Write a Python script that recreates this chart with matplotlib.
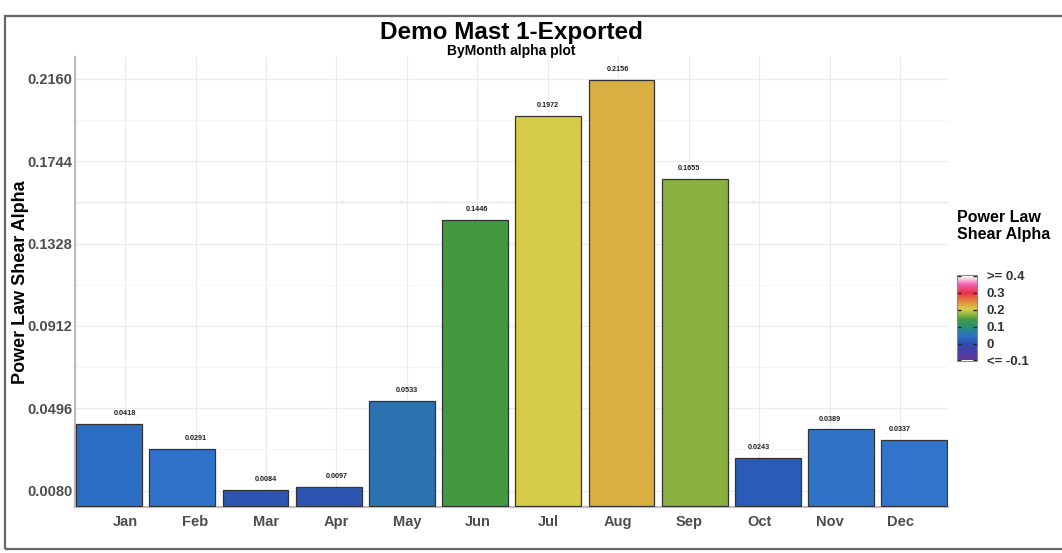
import numpy as np
import matplotlib
matplotlib.use('Agg')
import matplotlib.pyplot as plt
from matplotlib.colors import LinearSegmentedColormap, Normalize
from matplotlib.cm import ScalarMappable
from matplotlib.patches import Rectangle

plt.rcParams['font.family'] = ['Liberation Sans', 'DejaVu Sans']

months = ['Jan', 'Feb', 'Mar', 'Apr', 'May', 'Jun', 'Jul', 'Aug', 'Sep', 'Oct', 'Nov', 'Dec']
alpha = [0.0418, 0.0291, 0.0084, 0.0097, 0.0533, 0.1446, 0.1972, 0.2156, 0.1655, 0.0243, 0.0389, 0.0337]
barColors = ['#2E6DC4', '#3071CA', '#2B55B0', '#2B57B3', '#2C71B0', '#43993F',
             '#D5CB47', '#D9AF42', '#8AB03F', '#2B5BB8', '#3074C8', '#3075CB']
yTicks = [0.0080, 0.0496, 0.0912, 0.1328, 0.1744, 0.2160]
legendTicks = [0.4, 0.3, 0.2, 0.1, 0.0, -0.1]
legendLabels = ['>= 0.4', '0.3', '0.2', '0.1', '0', '<= -0.1']

# colour scale used in the legend
cmapStops = [(-0.1, '#6A3591'), (-0.05, '#4A3DA8'), (0.0, '#2C4FB2'), (0.05, '#2E72C2'),
             (0.1, '#2A9170'), (0.14, '#41994A'), (0.17, '#8EB33F'), (0.2, '#D8CE48'),
             (0.23, '#DCA640'), (0.27, '#E6663A'), (0.3, '#E8304E'), (0.35, '#F064AC'),
             (0.385, '#F8D8EC'), (0.4, '#FFFFFF')]
vmin, vmax = -0.1, 0.4
cmap = LinearSegmentedColormap.from_list(
  'shear', [((v - vmin) / (vmax - vmin), c) for v, c in cmapStops])

W, H = 1062, 553
fig = plt.figure(figsize=(W / 100, H / 100), dpi=100)

def px(x0, y0, x1, y1):
  # pixel box (top-left origin) to figure fraction [l, b, w, h]
  return [x0 / W, 1 - y1 / H, (x1 - x0) / W, (y1 - y0) / H]

# outer frame of the export
fig.patches.append(Rectangle((5 / W, 1 - 549 / H), 1.2, (549 - 16) / H, transform=fig.transFigure,
                             fill=False, ec='#666666', lw=1.6, zorder=0))

ax = fig.add_axes(px(75, 57, 948, 507))
x = np.arange(len(months))
ax.bar(x, alpha, width=0.9, color=barColors, edgecolor='#333333', linewidth=0.9, zorder=3)

# tick labels and value labels sit on a slightly compressed grid
labelPos = 0.219 + 0.9625 * x
for xp, v in zip(labelPos, alpha):
  ax.text(xp, v + 0.0035, '%.4f' % v, ha='center', va='bottom', fontsize=5.2,
          fontweight='bold', color='#222222', zorder=4)

ax.set_xlim(-0.465, 11.46)
ax.set_ylim(-0.0003, 0.2271)
ax.set_xticks(labelPos)
ax.set_xticklabels(months, fontsize=10.5, fontweight='bold', color='#4D4D4D')
ax.set_yticks(yTicks)
ax.set_yticklabels(['%.4f' % t for t in yTicks], fontsize=10.5, fontweight='bold', color='#4D4D4D')
ax.set_yticks([t + 0.0208 for t in yTicks[:-1]], minor=True)
ax.tick_params(axis='both', which='both', length=0)
ax.tick_params(axis='x', pad=6)
ax.tick_params(axis='y', pad=2)

ax.grid(True, which='major', color='#EBEBEB', lw=0.8, zorder=0)
ax.grid(True, which='minor', axis='y', color='#F3F3F3', lw=0.6, zorder=0)
ax.axhline(0.1536, color='#CFCFCF', lw=1.0, zorder=1)

for s in ['top', 'right']:
  ax.spines[s].set_visible(False)
for s in ['left', 'bottom']:
  ax.spines[s].set_color('#BDBDBD')
  ax.spines[s].set_linewidth(1.6)

ax.set_ylabel('Power Law Shear Alpha', fontsize=13, fontweight='bold', color='black')
ax.yaxis.set_label_coords(-0.053, 0.5)

fig.text(511.5 / W, 1 - 33 / H, 'Demo Mast 1-Exported', ha='center', va='center',
         fontsize=17.5, fontweight='bold')
fig.text(511.5 / W, 1 - 51 / H, 'ByMonth alpha plot', ha='center', va='center',
         fontsize=10, fontweight='bold')

# legend
fig.text(957 / W, 1 - 226 / H, 'Power Law\nShear Alpha', ha='left', va='center',
         fontsize=11.5, fontweight='bold', linespacing=1.25)
cax = fig.add_axes(px(957, 275, 977, 361))
cb = fig.colorbar(ScalarMappable(norm=Normalize(vmin, vmax), cmap=cmap), cax=cax)
cb.set_ticks(legendTicks)
cb.set_ticklabels(legendLabels)
cb.outline.set_edgecolor('#888888')
cb.outline.set_linewidth(0.8)
cax.tick_params(which='both', direction='in', length=3, width=1, color='#222222',
                left=True, right=True, labelsize=9.5, pad=7)
for lbl in cax.get_yticklabels():
  lbl.set_fontweight('bold')
  lbl.set_color('#333333')
cax.set_ylim(-0.103, 0.404)

fig.savefig('out.png', dpi=100)
